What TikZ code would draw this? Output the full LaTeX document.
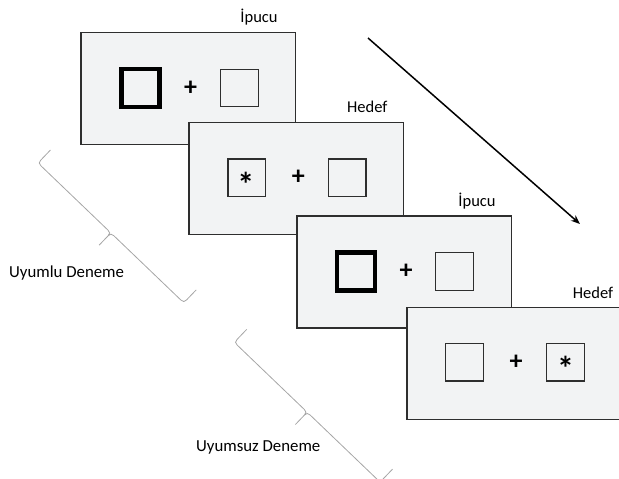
\documentclass[tikz,border=0pt]{standalone}
\usepackage{fontspec}
\setmainfont{Carlito}
\usetikzlibrary{arrows.meta,calc}
\definecolor{panelfill}{HTML}{F2F3F4}
\definecolor{panelline}{HTML}{2E2E2E}
\definecolor{bracegray}{HTML}{A6A6A6}
\tikzset{
  panel/.style={draw=panelline, fill=panelfill, line width=1.5pt,
    minimum width=214.5pt, minimum height=112pt, inner sep=0pt, anchor=north west},
  box/.style={draw=panelline, line width=1.4pt, minimum size=37.5pt, inner sep=0pt},
  cuebox/.style={draw=black, line width=4.3pt, minimum size=38pt, inner sep=0pt},
  fixation/.style={font=\bfseries\fontsize{26}{26}\selectfont, inner sep=0pt},
  target/.style={font=\bfseries\fontsize{34}{34}\selectfont, inner sep=0pt},
  caption/.style={font=\fontsize{16.5}{18}\selectfont, anchor=base, inner sep=0pt},
  sidelabel/.style={font=\fontsize{16.8}{18}\selectfont, anchor=base west, inner sep=0pt},
  bracket/.style={draw=bracegray, line width=0.8pt, line join=round},
}
\begin{document}
\begin{tikzpicture}[x=1pt,y=-1pt]
  \path[use as bounding box] (0,0) rectangle (619,479);
  \clip (0,0) rectangle (619,479);

  % time arrow
  \coordinate (t0) at (368,38);
  \coordinate (t1) at (580,224);
  \draw[line width=1.5pt, -{Stealth[length=9pt,width=7pt]}] (t0) -- (t1);

  % trial 1: cue
  \node[panel] (p1) at (80,31.7) {};
  \node[cuebox] (p1l) at ($(p1.north west)+(60.5,56.3)$) {};
  \node[fixation] (p1f) at ($(p1.north west)+(110.5,56.3)$) {+};
  \node[box] (p1r) at ($(p1.north west)+(159.5,56.3)$) {};
  \node[caption] (c1) at ($(p1.north west)+(179,-9.4)$) {İpucu};

  % trial 1: target
  \node[panel] (p2) at (188.3,121.7) {};
  \node[box] (p2l) at ($(p2.north west)+(58.5,56)$) {};
  \node[target] (p2s) at ($(p2l)+(-1,6.5)$) {*};
  \node[fixation] (p2f) at ($(p2.north west)+(110,56)$) {+};
  \node[box] (p2r) at ($(p2.north west)+(159,56)$) {};
  \node[caption] (c2) at ($(p2.north west)+(179,-9)$) {Hedef};

  % trial 2: cue
  \node[panel] (p3) at (296,215.3) {};
  \node[cuebox] (p3l) at ($(p3.north west)+(60,56.2)$) {};
  \node[fixation] (p3f) at ($(p3.north west)+(110,56.2)$) {+};
  \node[box] (p3r) at ($(p3.north west)+(158.5,56.2)$) {};
  \node[caption] (c3) at ($(p3.north west)+(181,-9)$) {İpucu};

  % trial 2: target
  \node[panel] (p4) at (406,306.7) {};
  \node[box] (p4l) at ($(p4.north west)+(58.5,55.5)$) {};
  \node[fixation] (p4f) at ($(p4.north west)+(110,55.5)$) {+};
  \node[box] (p4r) at ($(p4.north west)+(159.5,55.5)$) {};
  \node[target] (p4s) at ($(p4r)+(0,6.5)$) {*};
  \node[caption] (c4) at ($(p4.north west)+(187,-8.5)$) {Hedef};

  % braces grouping the trials
  \begin{scope}[shift={(38,163)}, rotate=-43.8]
    \draw[bracket] (0,-18) -- (0,-4) .. controls (0,-1) and (1,0) .. (4,0)
      -- (97,0) .. controls (100,0) and (101,1) .. (101,4) -- (101,17)
      (101,4) .. controls (101,1) and (102,0) .. (105,0)
      -- (198,0) .. controls (201,0) and (202,-1) .. (202,-4) -- (202,-18);
  \end{scope}
  \begin{scope}[shift={(234.3,342.3)}, rotate=-43.8]
    \draw[bracket] (0,-18) -- (0,-4) .. controls (0,-1) and (1,0) .. (4,0)
      -- (97,0) .. controls (100,0) and (101,1) .. (101,4) -- (101,17)
      (101,4) .. controls (101,1) and (102,0) .. (105,0)
      -- (198,0) .. controls (201,0) and (202,-1) .. (202,-4) -- (202,-18);
  \end{scope}

  \node[sidelabel] (l1) at (9,277) {Uyumlu Deneme};
  \node[sidelabel] (l2) at (196,451.7) {Uyumsuz Deneme};
\end{tikzpicture}
\end{document}
